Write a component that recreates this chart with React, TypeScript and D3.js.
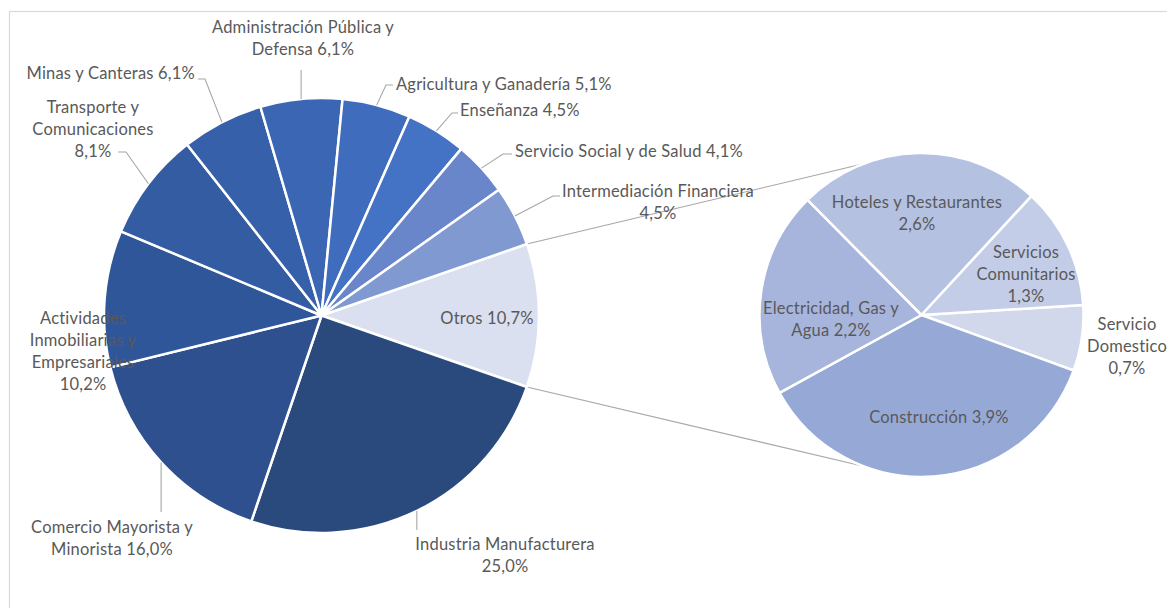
import React from "react";
import * as d3 from "d3";

// ---- data ----
const mainNames = [
  "Otros",
  "Industria Manufacturera",
  "Comercio Mayorista y Minorista",
  "Actividades Inmobiliarias y Empresariales",
  "Transporte y Comunicaciones",
  "Minas y Canteras",
  "Administración Pública y Defensa",
  "Agricultura y Ganadería",
  "Enseñanza",
  "Servicio Social y de Salud",
  "Intermediación Financiera",
];
const mainValues = [10.7, 25.0, 16.0, 10.2, 8.1, 6.1, 6.1, 5.1, 4.5, 4.1, 4.5];

const secNames = [
  "Servicio Domestico",
  "Construcción",
  "Electricidad, Gas y Agua",
  "Hoteles y Restaurantes",
  "Servicios Comunitarios",
];
const secValues = [0.7, 3.9, 2.2, 2.6, 1.3];

// ---- styles / layout ----
const mainColors = [
  "#DAE0F0", "#2A4A7E", "#2E508E", "#30569A", "#335CA2", "#3760AA",
  "#3B66B3", "#3F6CBD", "#4472C4", "#6A86CA", "#8099D0",
];
const secColors = ["#D1D8EC", "#96A9D6", "#A7B5DC", "#B4C1E1", "#C4CDE7"];

const W = 1167;
const H = 608;
const FONT = "Lato, 'Open Sans', sans-serif";
const FS = 16.5;
const LH = 22;
const TEXT = "#595959";
const LEAD = "#A6A6A6";

const main = { cx: 321.5, cy: 315.5, r: 217.5 };
const sec = { cx: 921.5, cy: 315, r: 162 };
const secStartDeg = 86.5; // d3 angle (clockwise from 12 o'clock)
const connectDeg = 69; // offset from 9 o'clock on the secondary pie

type Lay = { x: number; y: number; anchor: string; split: number[]; lead?: [number, number][] };

const mainLayout: Lay[] = [
  { x: 487, y: 318, anchor: "middle", split: [2] },
  { x: 505, y: 544, anchor: "middle", split: [2, 1], lead: [[-1, 530]] },
  { x: 112, y: 527, anchor: "middle", split: [3, 2], lead: [[-1, 512]] },
  { x: 83, y: 318, anchor: "middle", split: [1, 2, 1, 1] },
  { x: 93, y: 107, anchor: "middle", split: [2, 1, 1], lead: [[126, 152], [118, 152]] },
  { x: 195, y: 73, anchor: "end", split: [4], lead: [[205, 79], [198, 79]] },
  { x: 303, y: 27, anchor: "middle", split: [3, 2], lead: [[-1, 70]] },
  { x: 396, y: 84, anchor: "start", split: [4], lead: [[386, 85], [393, 85]] },
  { x: 460, y: 110, anchor: "start", split: [2], lead: [[452, 113], [458, 113]] },
  { x: 515, y: 151, anchor: "start", split: [6], lead: [[503, 154], [512, 154]] },
  { x: 658, y: 191, anchor: "middle", split: [2, 1], lead: [[553, 196], [560, 196]] },
];
const secLayout: Lay[] = [
  { x: 1127, y: 324, anchor: "middle", split: [1, 1, 1] },
  { x: 939, y: 417, anchor: "middle", split: [2] },
  { x: 831, y: 308, anchor: "middle", split: [3, 2] },
  { x: 917, y: 202, anchor: "middle", split: [3, 1] },
  { x: 1026, y: 252, anchor: "middle", split: [1, 1, 1] },
];

const fmt = (v: number) => v.toFixed(1).replace(".", ",") + "%";

function splitLines(text: string, split: number[]) {
  const words = text.split(" ");
  const out: string[] = [];
  let i = 0;
  for (const n of split) {
    out.push(words.slice(i, i + n).join(" "));
    i += n;
  }
  return out;
}

function Label({ text, lay }: { text: string; lay: Lay }) {
  const lines = splitLines(text, lay.split);
  return (
    <text
      x={lay.x}
      y={lay.y + 5.5}
      textAnchor={lay.anchor as any}
      fontFamily={FONT}
      fontSize={FS}
      letterSpacing={0.2}
      fill={TEXT}
    >
      {lines.map((l, i) => (
        <tspan key={i} x={lay.x} dy={i === 0 ? 0 : LH}>
          {l}
        </tspan>
      ))}
    </text>
  );
}

export default function App() {
  const rad = Math.PI / 180;
  const total = d3.sum(mainValues);
  const otrosHalf = (mainValues[0] / total) * Math.PI;

  const mainPie = d3
    .pie<number>()
    .sort(null)
    .value((d) => d)
    .startAngle(Math.PI / 2 - otrosHalf)
    .endAngle(Math.PI / 2 - otrosHalf + 2 * Math.PI);
  const mainArcs = mainPie(mainValues);

  const secPie = d3
    .pie<number>()
    .sort(null)
    .value((d) => d)
    .startAngle(secStartDeg * rad)
    .endAngle(secStartDeg * rad + 2 * Math.PI);
  const secArcs = secPie(secValues);

  const mainArc = d3.arc<d3.PieArcDatum<number>>().innerRadius(0).outerRadius(main.r);
  const secArc = d3.arc<d3.PieArcDatum<number>>().innerRadius(0).outerRadius(sec.r);

  // point on a circle at d3 angle (clockwise from 12 o'clock)
  const pt = (c: { cx: number; cy: number }, r: number, a: number): [number, number] => [
    c.cx + r * Math.sin(a),
    c.cy - r * Math.cos(a),
  ];

  const otros = mainArcs[0];
  const mTop = pt(main, main.r, otros.startAngle);
  const mBot = pt(main, main.r, otros.endAngle);
  const sTop = pt(sec, sec.r, (270 + connectDeg) * rad);
  const sBot = pt(sec, sec.r, (270 - connectDeg) * rad);

  const line = d3.line();

  return (
    <svg
      width={W}
      height={H}
      style={{ position: "absolute", left: 0, top: 0, background: "#fff" }}
    >
      <rect x={9.5} y={11.5} width={W + 20} height={H + 20} fill="#fff" stroke="#D9D9D9" strokeWidth={1.2} />

      {/* connector lines */}
      <path d={line([mTop, sTop]) || ""} stroke={LEAD} strokeWidth={1.1} fill="none" />
      <path d={line([mBot, sBot]) || ""} stroke={LEAD} strokeWidth={1.1} fill="none" />

      {/* main pie */}
      <g transform={`translate(${main.cx},${main.cy})`}>
        {mainArcs.map((a, i) => (
          <path key={i} d={mainArc(a) || ""} fill={mainColors[i]} stroke="#fff" strokeWidth={2.5} strokeLinejoin="round" />
        ))}
      </g>

      {/* secondary pie */}
      <g transform={`translate(${sec.cx},${sec.cy})`}>
        {secArcs.map((a, i) => (
          <path key={i} d={secArc(a) || ""} fill={secColors[i]} stroke="#fff" strokeWidth={2.5} strokeLinejoin="round" />
        ))}
      </g>

      {/* leader lines */}
      {mainArcs.map((a, i) => {
        const lay = mainLayout[i];
        if (!lay.lead) return null;
        const mid = (a.startAngle + a.endAngle) / 2;
        const start = pt(main, main.r, mid);
        const pts: [number, number][] = [start];
        lay.lead.forEach(([x, y]) => pts.push([x < 0 ? start[0] : x, y]));
        return <path key={i} d={line(pts) || ""} stroke={LEAD} strokeWidth={1.1} fill="none" />;
      })}

      {/* labels */}
      {mainArcs.map((a, i) => (
        <Label key={"m" + i} text={`${mainNames[i]} ${fmt(mainValues[i])}`} lay={mainLayout[i]} />
      ))}
      {secArcs.map((a, i) => (
        <Label key={"s" + i} text={`${secNames[i]} ${fmt(secValues[i])}`} lay={secLayout[i]} />
      ))}
    </svg>
  );
}
